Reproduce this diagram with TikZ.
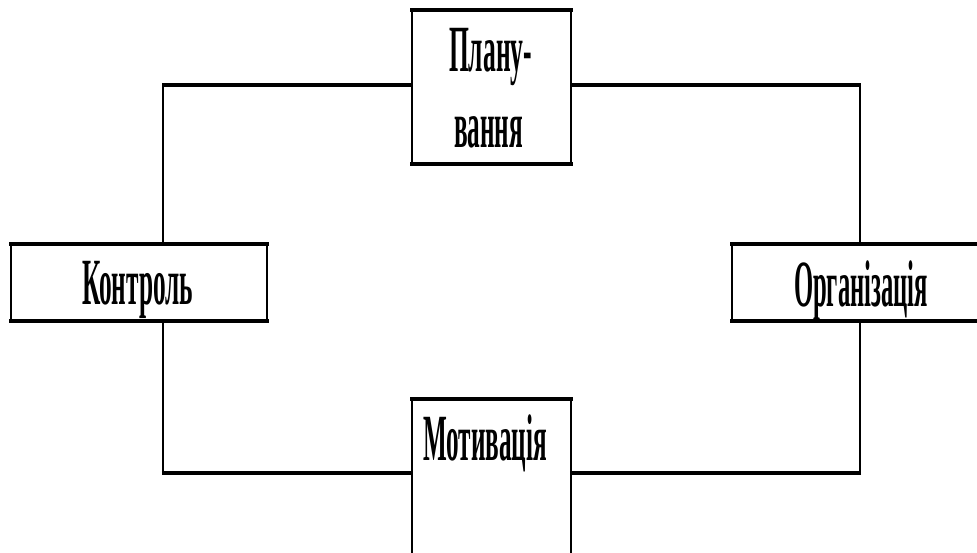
\documentclass[tikz,border=0pt]{standalone}
\usepackage{fontspec}
\setmainfont{Liberation Serif}
\usepackage{graphicx}
\begin{document}
\begin{tikzpicture}[x=1pt,y=1pt,
  boxnode/.style={draw=none,fill=white,inner sep=0pt,outer sep=0pt},
  hedge/.style={line width=4pt,line cap=rect},
  vedge/.style={line width=2.3pt,line cap=rect},
  hline/.style={line width=4pt},
  vline/.style={line width=2.3pt},
  lbl/.style={inner sep=0pt,anchor=base,font=\fontsize{66}{76}\selectfont\bfseries}]
\useasboundingbox (0,0) rectangle (977,-553);
% connector corners
\coordinate (tl) at (163,-85.5);
\coordinate (tr) at (860,-85.5);
\coordinate (bl) at (163,-473);
\coordinate (br) at (860,-473);
% boxes
\node[boxnode,minimum width=159pt,minimum height=154pt] (plan) at (491.5,-87) {};
\node[boxnode,minimum width=256pt,minimum height=76.5pt] (ctrl) at (139,-282.75) {};
\node[boxnode,minimum width=258pt,minimum height=76.5pt] (org) at (861,-282.75) {};
\node[boxnode,minimum width=159pt,minimum height=171.5pt] (mot) at (491.5,-484.25) {};
% connectors
\draw[hline] (plan.west |- tl) -- ([xshift=-1.15pt]tl);
\draw[vline] ([yshift=2pt]tl) -- (ctrl.north -| tl);
\draw[hline] (plan.east |- tr) -- ([xshift=1.15pt]tr);
\draw[vline] ([yshift=2pt]tr) -- (org.north -| tr);
\draw[vline] (ctrl.south -| bl) -- ([yshift=-2pt]bl);
\draw[hline] ([xshift=-1.15pt]bl) -- (mot.west |- bl);
\draw[vline] (org.south -| br) -- ([yshift=-2pt]br);
\draw[hline] ([xshift=1.15pt]br) -- (mot.east |- br);
% box borders
\foreach \b in {plan,ctrl,org,mot}{
  \draw[hedge] (\b.north west) -- (\b.north east);
  \draw[hedge] (\b.south west) -- (\b.south east);
  \draw[vedge] (\b.north west) -- (\b.south west);
  \draw[vedge] (\b.north east) -- (\b.south east);
}
% labels
\node[lbl] (plant1) at (490.5,-72) {\resizebox{83pt}{\height}{Плану-}};
\node[lbl] (plant2) at (488.5,-148) {\resizebox{69pt}{\height}{вання}};
\node[lbl] (ctrlt) at (137.5,-305) {\resizebox{111pt}{\height}{Контроль}};
\node[lbl] (orgt) at (861,-307) {\resizebox{134pt}{\height}{Організація}};
\node[lbl] (mott) at (485,-460) {\resizebox{124pt}{\height}{Мотивація}};
\end{tikzpicture}
\end{document}
